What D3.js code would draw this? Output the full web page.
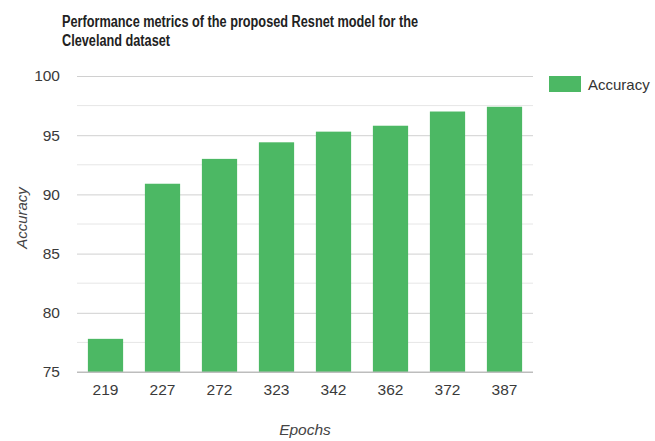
<!DOCTYPE html>
<html>
<head>
<meta charset="utf-8">
<script src="https://cdn.jsdelivr.net/npm/d3@7/dist/d3.min.js"></script>
<style>
  html, body { margin: 0; padding: 0; background: #fff; }
  svg { display: block; font-family: "Liberation Sans", Arial, sans-serif; }
</style>
</head>
<body>
<svg id="chart" width="655" height="441"></svg>
<script>
// Epoch counts and the accuracy (%) reached at each
const epochs = ["219", "227", "272", "323", "342", "362", "372", "387"];
const accuracy = [77.8, 90.9, 93.0, 94.4, 95.3, 95.8, 97.0, 97.4];
const yTicks = [75, 80, 85, 90, 95, 100];
const yMinorTicks = [77.5, 82.5, 87.5, 92.5, 97.5];
const seriesName = "Accuracy";
const titleLines = ["Performance metrics of the proposed Resnet model for the", "Cleveland dataset"];

const svg = d3.select("#chart");
const plot = { left: 77, right: 533, top: 76, bottom: 372 };
const barColor = "#4cb864";

const x = d3.scaleBand()
  .domain(epochs)
  .range([plot.left, plot.right])
  .paddingInner(0.382)
  .paddingOuter(0.191);

const y = d3.scaleLinear()
  .domain([75, 100])
  .range([plot.bottom, plot.top]);

// Title (two lines, condensed to the header width)
const title = svg.append("g").attr("font-weight", "bold").attr("font-size", 16).attr("fill", "#222");
title.append("text").attr("x", 62).attr("y", 27)
  .attr("textLength", 356).attr("lengthAdjust", "spacingAndGlyphs").text(titleLines[0]);
title.append("text").attr("x", 62).attr("y", 45.5)
  .attr("textLength", 108).attr("lengthAdjust", "spacingAndGlyphs").text(titleLines[1]);

// Minor gridlines
svg.append("g").selectAll("line").data(yMinorTicks).join("line")
  .attr("x1", plot.left).attr("x2", plot.right)
  .attr("y1", d => y(d)).attr("y2", d => y(d))
  .attr("stroke", "#e6e6e6").attr("stroke-width", 1);

// Major gridlines and y axis labels
const yAxis = svg.append("g")
  .attr("transform", `translate(${plot.left},0)`)
  .call(d3.axisLeft(y).tickValues(yTicks).tickSize(-(plot.right - plot.left)).tickPadding(17));
yAxis.select(".domain").remove();
yAxis.selectAll(".tick line").attr("stroke", d => d === 75 ? "#bdbdbd" : "#d0d0d0");
yAxis.selectAll(".tick text")
  .attr("font-family", "Liberation Sans, Arial, sans-serif")
  .attr("font-size", 15.5).attr("fill", "#3a3a3a");

// Bars
svg.append("g").selectAll("rect").data(epochs).join("rect")
  .attr("x", d => x(d))
  .attr("width", x.bandwidth())
  .attr("y", (d, i) => y(accuracy[i]))
  .attr("height", (d, i) => y(75) - y(accuracy[i]))
  .attr("fill", barColor);

// Baseline drawn over bar bottoms
svg.append("line")
  .attr("x1", plot.left).attr("x2", plot.right)
  .attr("y1", y(75)).attr("y2", y(75))
  .attr("stroke", "#bdbdbd");

// X axis labels
const xAxis = svg.append("g")
  .attr("transform", `translate(0,${plot.bottom})`)
  .call(d3.axisBottom(x).tickSize(0).tickPadding(12));
xAxis.select(".domain").remove();
xAxis.selectAll(".tick text")
  .attr("font-family", "Liberation Sans, Arial, sans-serif")
  .attr("font-size", 15.5).attr("fill", "#3a3a3a");

// Axis titles
svg.append("text")
  .attr("x", 305).attr("y", 435)
  .attr("text-anchor", "middle")
  .attr("font-style", "italic").attr("font-size", 15.5).attr("fill", "#444")
  .text("Epochs");

svg.append("text")
  .attr("transform", "translate(27,218) rotate(-90)")
  .attr("text-anchor", "middle")
  .attr("font-style", "italic").attr("font-size", 15).attr("fill", "#444")
  .text("Accuracy");

// Legend
const legend = svg.append("g");
legend.append("rect")
  .attr("x", 549).attr("y", 76).attr("width", 32).attr("height", 16)
  .attr("fill", barColor);
legend.append("text")
  .attr("x", 588).attr("y", 89.5)
  .attr("font-size", 15).attr("fill", "#333")
  .text(seriesName);
</script>
</body>
</html>
